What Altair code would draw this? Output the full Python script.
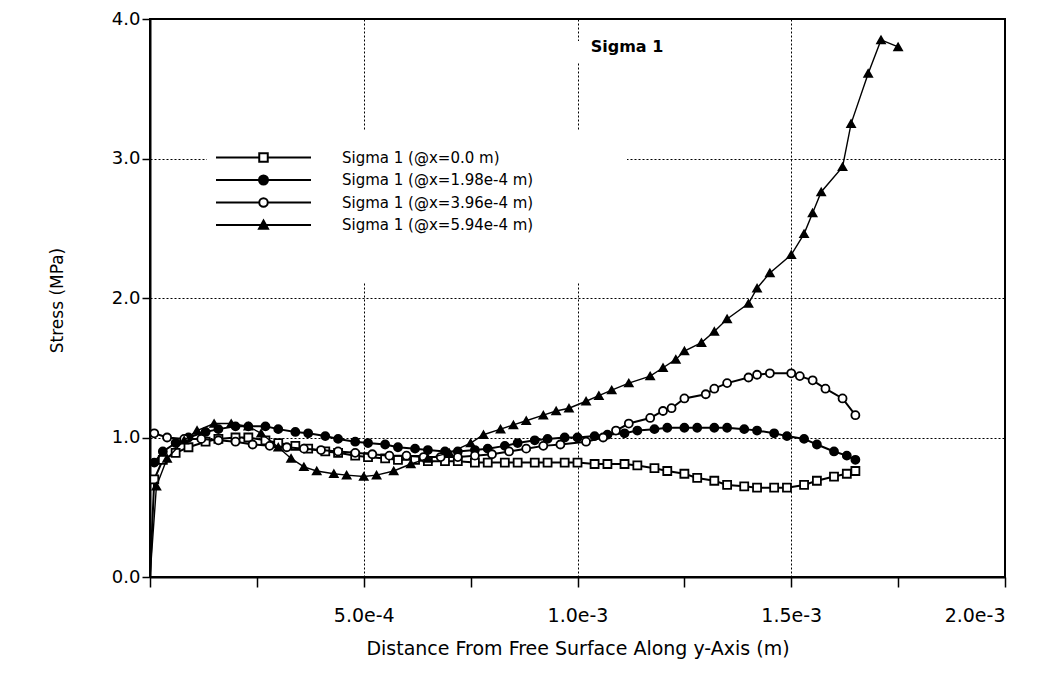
import altair as alt
import pandas as pd

series_names = [
    "Sigma 1 (@x=0.0 m)",
    "Sigma 1 (@x=1.98e-4 m)",
    "Sigma 1 (@x=3.96e-4 m)",
    "Sigma 1 (@x=5.94e-4 m)",
]

# distances along y-axis, in units of 1e-4 m ; stresses in MPa
sq_x = [0, 0.1, 0.3, 0.6, 0.9, 1.3, 1.6, 2.0, 2.3, 2.7, 3.0, 3.4, 3.7, 4.1, 4.4, 4.8, 5.1, 5.5,
        5.8, 6.2, 6.5, 6.9, 7.2, 7.6, 7.9, 8.3, 8.6, 9.0, 9.3, 9.7, 10.0, 10.4, 10.7, 11.1, 11.4,
        11.8, 12.1, 12.5, 12.8, 13.2, 13.5, 13.9, 14.2, 14.6, 14.9, 15.3, 15.6, 16.0, 16.3, 16.5]
sq_y = [0.0, 0.70, 0.84, 0.89, 0.93, 0.97, 0.99, 1.00, 1.00, 0.98, 0.96, 0.94, 0.92, 0.90, 0.89,
        0.87, 0.86, 0.85, 0.84, 0.84, 0.83, 0.83, 0.83, 0.82, 0.82, 0.82, 0.82, 0.82, 0.82, 0.82,
        0.82, 0.81, 0.81, 0.81, 0.80, 0.78, 0.76, 0.74, 0.71, 0.69, 0.66, 0.65, 0.64, 0.64, 0.64,
        0.66, 0.69, 0.72, 0.74, 0.76]

fc_x = [0.1, 0.3, 0.6, 0.9, 1.3, 1.6, 2.0, 2.3, 2.7, 3.0, 3.4, 3.7, 4.1, 4.4, 4.8, 5.1, 5.5,
        5.8, 6.2, 6.5, 6.9, 7.2, 7.6, 7.9, 8.3, 8.6, 9.0, 9.3, 9.7, 10.0, 10.4, 10.7, 11.1, 11.4,
        11.8, 12.1, 12.5, 12.8, 13.2, 13.5, 13.9, 14.2, 14.6, 14.9, 15.3, 15.6, 16.0, 16.3, 16.5]
fc_y = [0.82, 0.90, 0.96, 1.00, 1.04, 1.06, 1.08, 1.08, 1.08, 1.06, 1.04, 1.03, 1.01, 0.99, 0.97,
        0.96, 0.95, 0.93, 0.92, 0.91, 0.90, 0.90, 0.91, 0.92, 0.94, 0.96, 0.98, 0.99, 1.00, 1.00,
        1.01, 1.02, 1.03, 1.05, 1.06, 1.07, 1.07, 1.07, 1.07, 1.07, 1.06, 1.05, 1.03, 1.01, 0.99,
        0.95, 0.90, 0.87, 0.84]

oc_x = [0.1, 0.4, 0.8, 1.2, 1.6, 2.0, 2.4, 2.8, 3.2, 3.6, 4.0, 4.4, 4.8, 5.2, 5.6, 6.0, 6.4,
        6.8, 7.2, 7.6, 8.0, 8.4, 8.8, 9.2, 9.6, 10.2, 10.6, 10.9, 11.2, 11.7, 12.0, 12.2, 12.5,
        13.0, 13.2, 13.5, 14.0, 14.2, 14.5, 15.0, 15.2, 15.5, 15.8, 16.2, 16.5]
oc_y = [1.03, 1.00, 0.99, 0.99, 0.98, 0.97, 0.95, 0.94, 0.93, 0.92, 0.91, 0.90, 0.89, 0.88, 0.87,
        0.87, 0.86, 0.86, 0.86, 0.87, 0.88, 0.90, 0.92, 0.94, 0.95, 0.97, 1.00, 1.05, 1.10, 1.14,
        1.19, 1.21, 1.28, 1.31, 1.35, 1.39, 1.43, 1.45, 1.46, 1.46, 1.44, 1.41, 1.35, 1.28, 1.16]

tr_x = [0, 0.15, 0.4, 0.8, 1.1, 1.5, 1.9, 2.3, 2.6, 3.0, 3.3, 3.6, 3.9, 4.3, 4.6, 5.0, 5.3, 5.7,
        6.1, 6.5, 7.0, 7.5, 7.8, 8.2, 8.5, 8.8, 9.2, 9.5, 9.8, 10.2, 10.5, 10.8, 11.2, 11.7, 12.0,
        12.3, 12.5, 12.9, 13.2, 13.5, 14.0, 14.2, 14.5, 15.0, 15.3, 15.5, 15.7, 16.2, 16.4, 16.8,
        17.1, 17.5]
tr_y = [0.0, 0.65, 0.85, 0.98, 1.05, 1.10, 1.10, 1.08, 1.03, 0.93, 0.85, 0.79, 0.76, 0.74, 0.73,
        0.72, 0.73, 0.76, 0.81, 0.85, 0.89, 0.96, 1.02, 1.06, 1.09, 1.12, 1.16, 1.19, 1.21, 1.26,
        1.30, 1.34, 1.39, 1.44, 1.50, 1.56, 1.62, 1.68, 1.76, 1.85, 1.96, 2.07, 2.18, 2.31, 2.46,
        2.61, 2.76, 2.94, 3.25, 3.61, 3.85, 3.80]

x_values = [sq_x, fc_x, oc_x, tr_x]
y_values = [sq_y, fc_y, oc_y, tr_y]

rows = []
for name, xs, ys in zip(series_names, x_values, y_values):
    for i, (xv, yv) in enumerate(zip(xs, ys)):
        rows.append({"series": name, "x": xv * 1e-4, "y": yv, "idx": i})
df = pd.DataFrame(rows)

FONT = "DejaVu Sans"
X = alt.X("x:Q", scale=alt.Scale(domain=[0, 0.002], nice=False, zero=False),
          axis=alt.Axis(
              title="Distance From Free Surface Along y-Axis (m)",
              values=[0, 0.00025, 0.0005, 0.00075, 0.001, 0.00125, 0.0015, 0.00175, 0.002],
              labelExpr="(datum.value == 0 || abs(datum.value / 0.0005 - round(datum.value / 0.0005)) > 0.01) ? '' : format(datum.value, '.1e')",
              gridOpacity={"condition": {"test": "datum.value > 0 && datum.value < 0.00199 && abs(datum.value / 0.0005 - round(datum.value / 0.0005)) < 0.01", "value": 1}, "value": 0},
              tickSize=10, labelPadding=19, labelFontSize=19, titleFontSize=19,
              titleY=71, titleBaseline="middle",
          ))
Y = alt.Y("y:Q", scale=alt.Scale(domain=[0, 4], nice=False),
          axis=alt.Axis(
              title="Stress (MPa)", values=[0, 1, 2, 3, 4], format=".1f",
              tickSize=8, labelPadding=2, labelFontSize=18, titleFontSize=17,
              titleX=-93, titleY=281, titleBaseline="middle", titleAngle=270,
          ))

styles = [
    # shape, fill, size, line width
    ("square", "white", 64, 2.0),
    ("circle", "black", 64, 2.0),
    ("circle", "white", 64, 2.0),
    ("triangle-up", "black", 60, 1.4),
]

bg = pd.DataFrame({"k": [0]})
legend_bg = alt.Chart(bg).mark_rect(fill="white").encode(
    x=alt.value(57), x2=alt.value(477), y=alt.value(111), y2=alt.value(263))
title_bg = alt.Chart(bg).mark_rect(fill="white").encode(
    x=alt.value(418), x2=alt.value(535), y=alt.value(22), y2=alt.value(44))
title_txt = alt.Chart(bg).mark_text(text="Sigma 1", font=FONT, fontSize=16, fontWeight="bold",
                                    align="center", baseline="middle", color="black").encode(
    x=alt.value(477), y=alt.value(28))

layers = [legend_bg, title_bg, title_txt]
for name, (shape, fill, size, lw) in zip(series_names, styles):
    base = alt.Chart(df[df.series == name])
    layers.append(base.mark_line(color="black", strokeWidth=lw).encode(x=X, y=Y, order="idx:Q"))
    layers.append(base.transform_filter("datum.y > 0").mark_point(
        shape=shape, filled=True, fill=fill, stroke="black",
        strokeWidth=1.8, size=size, opacity=1).encode(x=X, y=Y))

legend_paths = [
    "M-9.5,0H-0.85M0.85,0H9.5M-0.85,-0.85H0.85V0.85H-0.85Z",
    "M-9.5,0H9.5M-0.9,0A0.9,0.9 0 1,0 0.9,0A0.9,0.9 0 1,0 -0.9,0Z",
    "M-9.5,0H-0.85M0.85,0H9.5M-0.85,0A0.85,0.85 0 1,0 0.85,0A0.85,0.85 0 1,0 -0.85,0Z",
    "M-9.5,0H9.5M0,-0.9L0.9,0.75H-0.9Z",
]
legend_fill = ["white", "black", "white", "black"]
legend_stroke = ["black", "black", "black", "black"]

legend = alt.Legend(title=None, orient="none", legendX=106, legendY=131,
                    labelFont=FONT, labelFontSize=15, labelColor="black", labelOffset=71,
                    symbolSize=100, symbolStrokeWidth=2, symbolStrokeColor="black",
                    symbolOpacity=1, rowPadding=5.5, padding=0, labelLimit=400)
dummy = alt.Chart(df).mark_point(opacity=0, strokeWidth=2).encode(
    x=X, y=Y,
    shape=alt.Shape("series:N", sort=series_names,
                    scale=alt.Scale(domain=series_names, range=legend_paths), legend=legend),
    fill=alt.Fill("series:N", sort=series_names,
                  scale=alt.Scale(domain=series_names, range=legend_fill), legend=legend),
    stroke=alt.Stroke("series:N", sort=series_names,
                      scale=alt.Scale(domain=series_names, range=legend_stroke), legend=legend),
)
layers.append(dummy)

chart = alt.layer(*layers).properties(
    width=855, height=558,
    background="white",
    autosize=alt.AutoSizeParams(type="none"),
    padding={"left": 142, "top": 11, "right": 34, "bottom": 90},
).configure_view(stroke="black", strokeWidth=2).configure_axis(
    labelFont=FONT, titleFont=FONT, labelColor="black", titleColor="black",
    titleFontWeight="normal", domainColor="black", domainWidth=2, tickColor="black",
    tickWidth=1.5, gridColor="black", gridDash=[2, 2], gridWidth=1,
)

chart.save("out.html", embed_options={"renderer": "svg", "actions": False})
